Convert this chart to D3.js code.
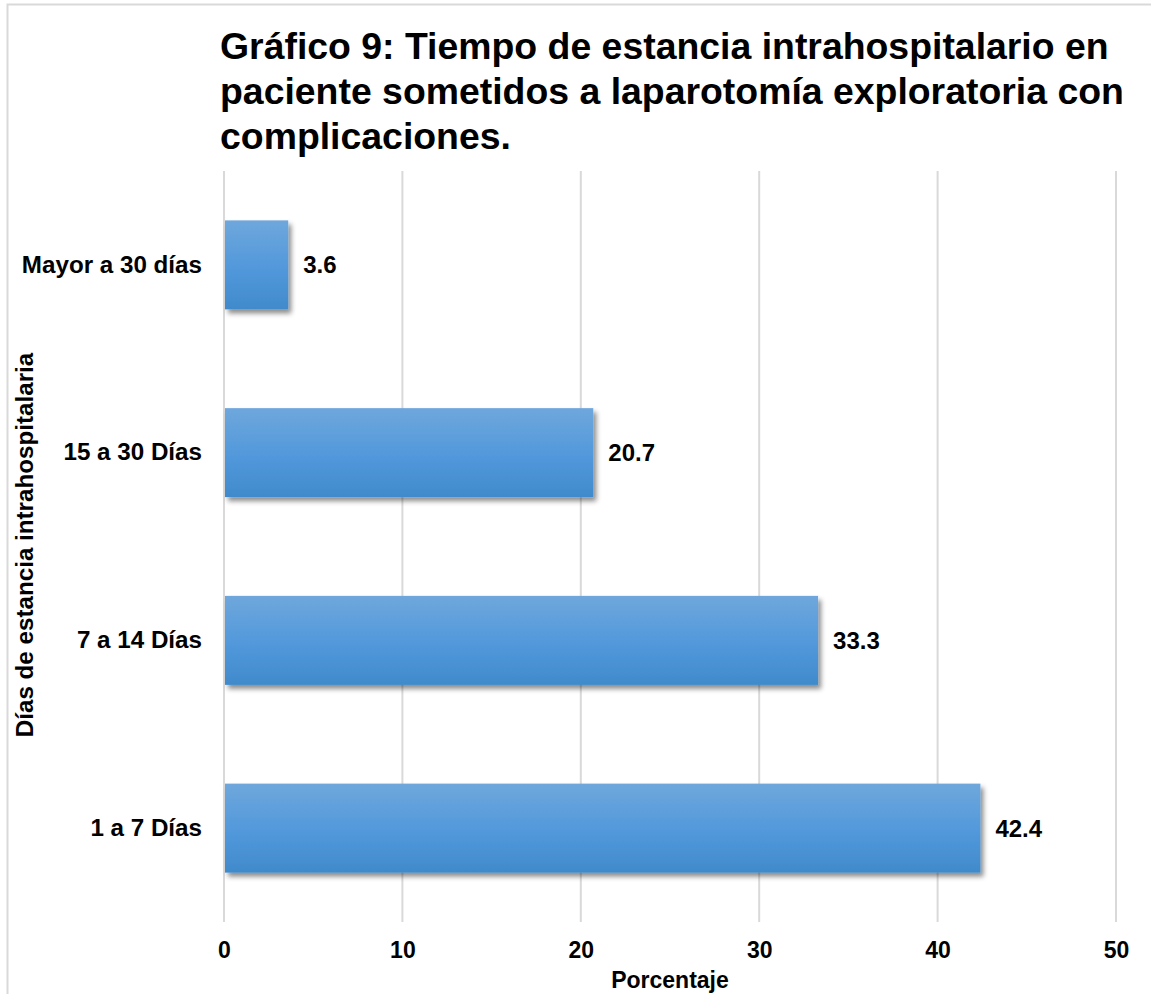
<!DOCTYPE html>
<html><head><meta charset="utf-8">
<script src="https://cdn.jsdelivr.net/npm/d3@7"></script>
<style>body{margin:0;background:#fff}svg{display:block}text{font-family:"Liberation Sans",Arial,sans-serif;font-weight:bold;fill:#000}</style>
</head><body>
<svg id="c" width="1151" height="994"></svg>
<script>
const categories = ["Mayor a 30 días", "15 a 30 Días", "7 a 14 Días", "1 a 7 Días"];
const values = [3.6, 20.7, 33.3, 42.4];
const xTicks = [0, 10, 20, 30, 40, 50];
const titleLines = ["Gráfico 9: Tiempo de estancia intrahospitalario en", "paciente sometidos a laparotomía exploratoria con", "complicaciones."];
const xTitle = "Porcentaje";
const yTitle = "Días de estancia intrahospitalaria";

const svg = d3.select("#c");
const W = 1151, H = 994;
const m = {left: 224, right: 1116, top: 171, bottom: 922};

// outer border
svg.append("rect").attr("x", 7.5).attr("y", 4.5).attr("width", W + 10).attr("height", H + 10)
  .attr("fill", "none").attr("stroke", "#d9d9d9").attr("stroke-width", 2);

const defs = svg.append("defs");
const grad = defs.append("linearGradient").attr("id", "g").attr("x1", 0).attr("y1", 0).attr("x2", 0).attr("y2", 1);
grad.append("stop").attr("offset", "0%").attr("stop-color", "#6fa7dc");
grad.append("stop").attr("offset", "55%").attr("stop-color", "#5198db");
grad.append("stop").attr("offset", "100%").attr("stop-color", "#408acb");
const f = defs.append("filter").attr("id", "sh").attr("x", "-10%").attr("y", "-10%").attr("width", "130%").attr("height", "140%");
f.append("feDropShadow").attr("dx", 3).attr("dy", 4).attr("stdDeviation", 2.5).attr("flood-color", "#000").attr("flood-opacity", 0.45);

const x = d3.scaleLinear().domain([0, 50]).range([m.left, m.right]);
const y = d3.scaleBand().domain(categories).range([m.top, m.bottom]).paddingInner(0.526).paddingOuter(0.263);

// gridlines
svg.append("g").selectAll("line").data(xTicks).join("line")
  .attr("x1", d => x(d)).attr("x2", d => x(d)).attr("y1", m.top).attr("y2", m.bottom)
  .attr("stroke", "#d9d9d9").attr("stroke-width", 2);

// x axis labels
const xAxis = d3.axisBottom(x).tickValues(xTicks).tickSize(0).tickPadding(0).tickFormat(d3.format("d"));
const xg = svg.append("g").attr("transform", `translate(0,${m.bottom + 20})`).call(xAxis);
xg.select(".domain").remove();
xg.selectAll("text").attr("font-size", 23).attr("fill", "#000").attr("dy", "0.71em");

// y axis labels
const yAxis = d3.axisLeft(y).tickSize(0).tickPadding(22);
const yg = svg.append("g").attr("transform", `translate(${m.left},0)`).call(yAxis);
yg.select(".domain").remove();
yg.selectAll("text").attr("font-size", 24.2).attr("fill", "#000");

// bars
svg.append("g").selectAll("rect").data(categories).join("rect")
  .attr("x", x(0) + 1).attr("y", d => y(d))
  .attr("width", (d, i) => x(values[i]) - x(0) - 1).attr("height", y.bandwidth())
  .attr("fill", "url(#g)").attr("filter", "url(#sh)");

// value labels
svg.append("g").selectAll("text").data(categories).join("text")
  .attr("x", (d, i) => x(values[i]) + 15).attr("y", d => y(d) + y.bandwidth() / 2)
  .attr("dy", "0.35em").attr("font-size", 24).text((d, i) => values[i].toFixed(1));

// title
svg.append("g").selectAll("text").data(titleLines).join("text")
  .attr("x", 220).attr("y", (d, i) => 59 + i * 45).attr("font-size", 37.4).text(d => d);

// axis titles
svg.append("text").attr("x", 670).attr("y", 988).attr("text-anchor", "middle")
  .attr("font-size", 23).text(xTitle);
svg.append("text").attr("transform", "translate(33,545) rotate(-90)").attr("text-anchor", "middle")
  .attr("font-size", 24.2).text(yTitle);
</script>
</body></html>
